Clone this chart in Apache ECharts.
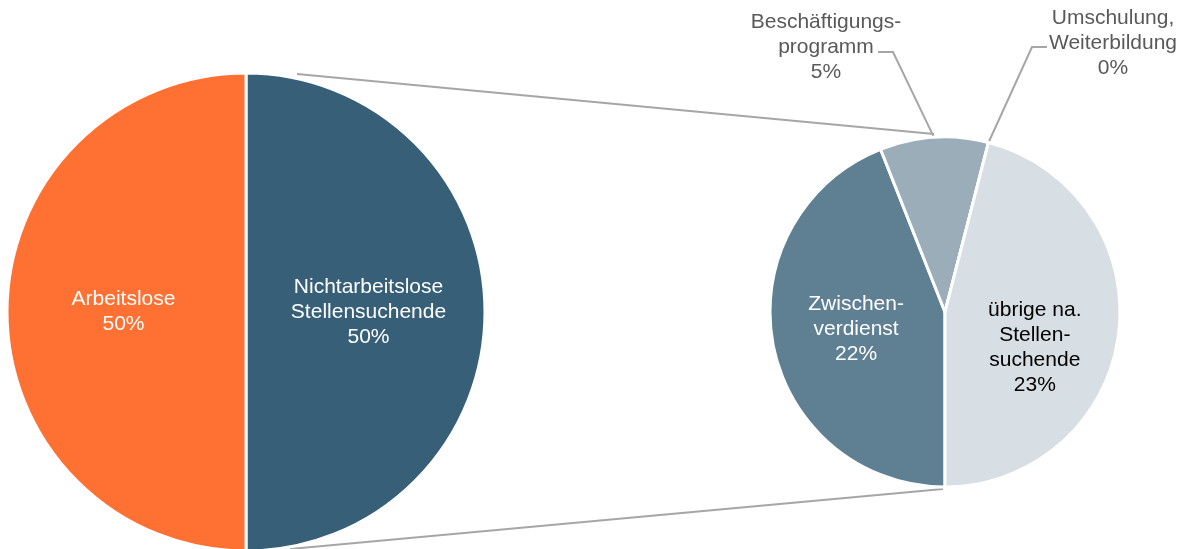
<!DOCTYPE html>
<html>
<head>
<meta charset="utf-8">
<script src="https://cdn.jsdelivr.net/npm/echarts@6/dist/echarts.min.js"></script>
<style>
  html, body { margin: 0; padding: 0; background: #fff; }
  #chart { width: 1185px; height: 549px; }
</style>
</head>
<body>
<div id="chart"></div>
<script>
// Stellensuchende: Aufteilung
const mainCategories = ['Nichtarbeitslose\nStellensuchende', 'Arbeitslose']
const mainValues = [50, 50]
const mainColors = ['#375F78', '#FF7033']

const subCategories = ['Zwischen-\nverdienst', 'Beschäftigungs-\nprogramm', 'Umschulung,\nWeiterbildung', 'übrige na.\nStellen-\nsuchende']
const subValues = [22, 5, 0, 23]
const subColors = ['#5F7F93', '#9AADB8', '#B8C6CF', '#D7DEE4']
const subLabelColors = ['#fff', '#595959', '#595959', '#000']

const FONT = '"Liberation Sans", Arial, sans-serif'
const GRAY = '#A6A6A6'

const fmt = p => p.name + '\n' + p.value + '%'

// Excel-style label spots for the small outer labels
const outerSpots = {
  1: { x: 826, y: 47, line: [[893, 52], [878, 52]] },
  2: { x: 1113, y: 43, line: [[1032, 47], [1047, 47]] }
}

const option = {
  animation: false,
  backgroundColor: '#fff',
  graphic: [
    { type: 'line', z: 0, shape: { x1: 297, y1: 74, x2: 934, y2: 134 }, style: { stroke: GRAY, lineWidth: 2 } },
    { type: 'line', z: 0, shape: { x1: 290, y1: 549, x2: 943, y2: 489 }, style: { stroke: GRAY, lineWidth: 2 } }
  ],
  series: [
    {
      type: 'pie',
      z: 2,
      center: [246, 312],
      radius: 239,
      startAngle: 90,
      clockwise: true,
      itemStyle: { borderColor: '#fff', borderWidth: 3 },
      label: {
        position: 'inside',
        formatter: fmt,
        color: '#fff',
        fontFamily: FONT,
        fontSize: 21,
        lineHeight: 25
      },
      labelLine: { show: false },
      emphasis: { disabled: true },
      data: mainCategories.map((name, i) => ({
        name,
        value: mainValues[i],
        itemStyle: { color: mainColors[i] }
      }))
    },
    {
      type: 'pie',
      z: 2,
      center: [945, 312],
      radius: 175,
      startAngle: 270,
      clockwise: true,
      minShowLabelAngle: 0,
      itemStyle: { borderColor: '#fff', borderWidth: 3 },
      label: {
        formatter: fmt,
        fontFamily: FONT,
        fontSize: 21,
        lineHeight: 25
      },
      emphasis: { disabled: true },
      labelLayout: function (params) {
        const spot = outerSpots[params.dataIndex]
        if (spot) {
          const pts = params.labelLinePoints
          const start = pts ? pts[0] : spot.line[0]
          return {
            x: spot.x,
            y: spot.y,
            align: 'center',
            verticalAlign: 'middle',
            labelLinePoints: [start, spot.line[0], spot.line[1]]
          }
        }
        if (params.dataIndex === 3) return { dy: 24 }
        return {}
      },
      data: subCategories.map((name, i) => {
        const outside = i === 1 || i === 2
        return {
          name,
          value: subValues[i],
          itemStyle: { color: subColors[i] },
          label: {
            position: outside ? 'outside' : 'inside',
            color: subLabelColors[i],
            align: 'center'
          },
          labelLine: {
            show: outside,
            length: 40,
            length2: 10,
            lineStyle: { color: GRAY, width: 2 }
          }
        }
      })
    }
  ]
}

const myChart = echarts.init(document.getElementById('chart'))
myChart.setOption(option)
</script>
</body>
</html>
